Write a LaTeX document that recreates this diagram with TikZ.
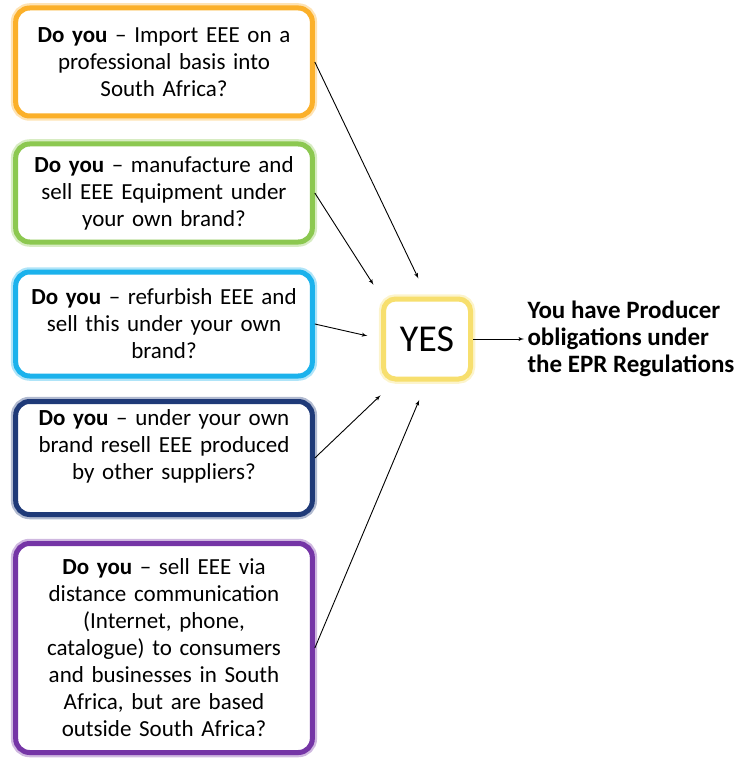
\documentclass[tikz,border=0pt]{standalone}
\usepackage{fontspec}
\setmainfont{Carlito}
\usepackage{xcolor}
\usetikzlibrary{arrows}
\definecolor{qorange}{HTML}{FBB02A}
\definecolor{qgreen}{HTML}{8CC850}
\definecolor{qblue}{HTML}{1BB2EC}
\definecolor{qnavy}{HTML}{1F3A78}
\definecolor{qpurple}{HTML}{7535A6}
\definecolor{qyellow}{HTML}{F7DF6E}
\tikzstyle{every node}=[font=\fontsize{23}{27}\selectfont]
\tikzset{block/.style={rectangle, draw=#1, line width=5pt, preaction={draw=#1!35, line width=9.5pt},
    fill=white, rounded corners=14pt, text width=290pt, align=center, minimum width=296pt}}
\tikzstyle{line} = [draw, -latex', line width=0.9pt]

\begin{document}
\begin{tikzpicture}
    \useasboundingbox (0,0) rectangle (740pt,-759pt);
    % Place nodes
    \node [block=qorange, minimum height=108pt] (import) at (164pt,-62pt)
        {\textbf{Do you} -- Import EEE on a\\professional basis into\\South Africa?};
    \node [block=qgreen, minimum height=98pt, below of=import, node distance=131pt] (make)
        {\textbf{Do you} -- manufacture and\\sell EEE Equipment under\\your own brand?};
    \node [block=qblue, minimum height=104pt, below of=make, node distance=131pt] (refurb)
        {\textbf{Do you} -- refurbish EEE and\\sell this under your own\\brand?};
    \node [block=qnavy, minimum height=113pt, below of=refurb, node distance=134pt] (resell)
        {\textbf{Do you} -- under your own\\brand resell EEE produced\\by other suppliers?\\~};
    \node [block=qpurple, minimum height=209pt, below of=resell, node distance=190pt] (distance)
        {\textbf{Do you} -- sell EEE via\\distance communication\\(Internet, phone,\\catalogue) to consumers\\and businesses in South\\Africa, but are based\\outside South Africa?};
    \node [block=qyellow, text width=, minimum width=87pt, minimum height=80pt, rounded corners=12pt,
        font=\fontsize{38}{40}\selectfont, right of=refurb, node distance=263pt, yshift=-15pt] (yes) {YES};
    \node [align=left, font=\fontsize{25}{27}\selectfont\bfseries, right of=yes, node distance=97pt, anchor=west] (producer)
        {You have Producer\\obligations under\\the EPR Regulations};
    % Draw edges
    \path [line, shorten >=20pt] (import.east) -- (yes.north);
    \path [line, shorten >=14pt] (make.east) -- (yes.north west);
    \path [line, shorten >=14pt] (refurb.east) -- (yes.west);
    \path [line, shorten >=20pt] (resell.east) -- ([xshift=14pt]yes.south west);
    \path [line, shorten >=20pt] (distance.east) -- (yes.south);
    \path [line] (yes.east) -- (producer.west);
\end{tikzpicture}
\end{document}
